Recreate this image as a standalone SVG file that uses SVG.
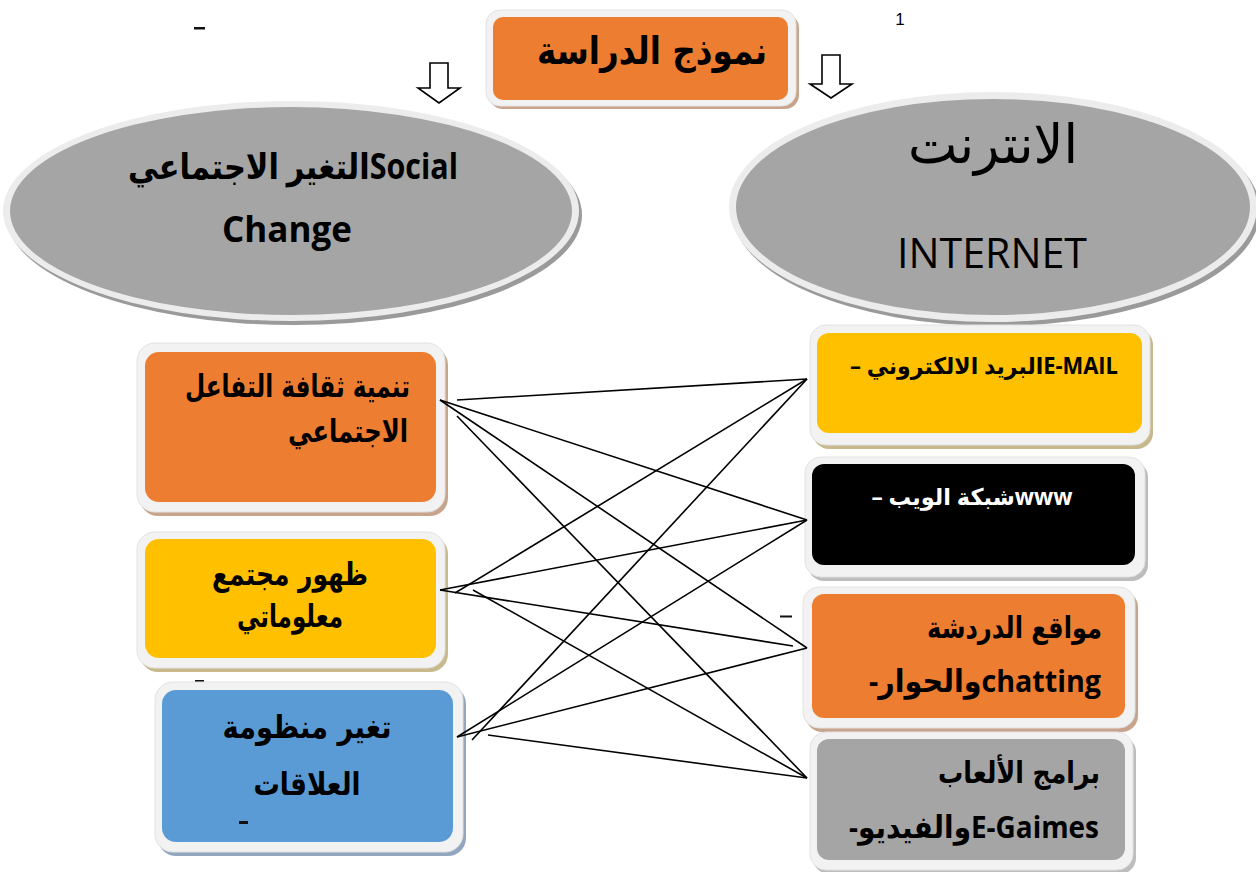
<svg xmlns="http://www.w3.org/2000/svg" width="1256" height="872" viewBox="0 0 1256 872">
<style>
.frame{fill:#f2f2f2;stroke:#e2e2e2;stroke-width:1}
.ar{font-family:"DejaVu Sans","Noto Sans",sans-serif;font-weight:bold;fill:#000}
.lat{font-family:"Open Sans","DejaVu Sans",sans-serif;font-weight:bold;fill:#000}
.mix{font-family:"Open Sans","DejaVu Sans",sans-serif;font-weight:bold;fill:#000}
.rtl{direction:rtl;unicode-bidi:embed}
.conn line{stroke:#000;stroke-width:1.6;fill:none}
.mark{fill:#111}
</style>
<rect width="1256" height="872" fill="#fff"/>

<!-- stray marks -->
<rect class="mark" x="194" y="27" width="11" height="2.5"/>
<text x="900" y="25" font-family="Liberation Sans,sans-serif" font-size="17" text-anchor="middle" fill="#000">1</text>
<rect x="195" y="513" width="9" height="3" fill="#3a2318"/>
<rect class="mark" x="195" y="680" width="9" height="2.5"/>
<rect x="780" y="615.5" width="12" height="2" fill="#111"/>

<!-- title -->
<g id="title">
<rect x="489" y="14" width="310" height="95" rx="14" fill="#c9a48c"/>
<rect class="frame" x="486" y="10" width="310" height="96" rx="14"/>
<rect x="493" y="17" width="295" height="83" rx="10" fill="#ed7d31"/>
<text class="ar rtl" x="652" y="64" font-size="38" text-anchor="middle" textLength="230" lengthAdjust="spacingAndGlyphs">نموذج الدراسة</text>
</g>

<!-- down arrows -->
<g id="arrow-left">
<path d="M430,63 H448 V88 H460 L439,103 L418,88 H430 Z" fill="#fff" stroke="#000" stroke-width="1.6"/>
</g>
<g id="arrow-right">
<path d="M822,55 H840 V84 H852 L831,98 L810,84 H822 Z" fill="#fff" stroke="#000" stroke-width="1.6"/>
</g>

<!-- ellipses -->
<g id="social-change">
<ellipse cx="294" cy="215" rx="288" ry="110" fill="#9a9a9a"/>
<ellipse cx="291" cy="211" rx="288" ry="110" fill="#ececec"/>
<ellipse cx="291" cy="211" rx="281" ry="104" fill="#a5a5a5"/>
<text class="mix rtl" x="293" y="179" font-size="35" text-anchor="middle" textLength="330" lengthAdjust="spacingAndGlyphs">Socialالتغير الاجتماعي</text>
<text class="lat" x="287" y="242" font-size="35" text-anchor="middle" textLength="130" lengthAdjust="spacingAndGlyphs">Change</text>
</g>

<g id="internet">
<ellipse cx="996" cy="211" rx="264" ry="115" fill="#9a9a9a"/>
<ellipse cx="993" cy="207" rx="264" ry="115" fill="#ececec"/>
<ellipse cx="993" cy="207" rx="257" ry="108" fill="#a5a5a5"/>
<text class="rtl" x="993" y="163" font-size="54" text-anchor="middle" font-family="DejaVu Sans,sans-serif" fill="#000" textLength="170" lengthAdjust="spacingAndGlyphs">الانترنت</text>
<text x="992" y="268" font-size="42" text-anchor="middle" font-family="Open Sans,sans-serif" fill="#000" textLength="190" lengthAdjust="spacingAndGlyphs">INTERNET</text>
</g>

<!-- left boxes -->
<g id="box-culture">
<rect x="140" y="347" width="308" height="169" rx="18" fill="#c9a48c"/>
<rect class="frame" x="137" y="343" width="308" height="169" rx="18"/>
<rect x="145" y="352" width="291" height="150" rx="14" fill="#ed7d31"/>
<text class="ar rtl" x="410" y="397" font-size="31" text-anchor="start" textLength="225" lengthAdjust="spacingAndGlyphs">تنمية ثقافة التفاعل</text>
<text class="ar rtl" x="408" y="442" font-size="31" text-anchor="start" textLength="120" lengthAdjust="spacingAndGlyphs">الاجتماعي</text>
</g>

<g id="box-info">
<rect x="140" y="536" width="308" height="136" rx="18" fill="#c8b98c"/>
<rect class="frame" x="137" y="532" width="308" height="136" rx="18"/>
<rect x="145" y="539" width="291" height="119" rx="14" fill="#ffc000"/>
<text class="ar rtl" x="290" y="585" font-size="31" text-anchor="middle" textLength="156" lengthAdjust="spacingAndGlyphs">ظهور مجتمع</text>
<text class="ar rtl" x="290" y="627" font-size="31" text-anchor="middle" textLength="106" lengthAdjust="spacingAndGlyphs">معلوماتي</text>
</g>

<g id="box-relations">
<rect x="158" y="686" width="308" height="170" rx="18" fill="#93a6c0"/>
<rect class="frame" x="155" y="682" width="308" height="170" rx="18"/>
<rect x="162" y="690" width="291" height="152" rx="14" fill="#5b9bd5"/>
<text class="ar rtl" x="307" y="738" font-size="32" text-anchor="middle" textLength="169" lengthAdjust="spacingAndGlyphs">تغير منظومة</text>
<text class="ar rtl" x="307" y="795" font-size="32" text-anchor="middle" textLength="107" lengthAdjust="spacingAndGlyphs">العلاقات</text>
<rect x="239" y="821" width="9" height="3" fill="#111"/>
</g>

<!-- right boxes -->
<g id="box-email">
<rect x="813" y="329" width="340" height="120" rx="16" fill="#c8b98c"/>
<rect class="frame" x="810" y="325" width="340" height="120" rx="16"/>
<rect x="817" y="333" width="325" height="100" rx="12" fill="#ffc000"/>
<text class="mix rtl" x="984" y="374" font-size="23" text-anchor="middle" textLength="268" lengthAdjust="spacingAndGlyphs">E-MAILالبريد الالكتروني –</text>
</g>

<g id="box-www">
<rect x="808" y="461" width="340" height="120" rx="16" fill="#bdbdbd"/>
<rect class="frame" x="805" y="457" width="340" height="120" rx="16"/>
<rect x="812" y="464" width="323" height="101" rx="12" fill="#000"/>
<text class="mix rtl" x="972" y="505" font-size="23" text-anchor="middle" textLength="201" lengthAdjust="spacingAndGlyphs" style="fill:#fff">wwwشبكة الويب –</text>
</g>

<g id="box-chat">
<rect x="806" y="591" width="332" height="141" rx="16" fill="#c9a48c"/>
<rect class="frame" x="803" y="587" width="332" height="141" rx="16"/>
<rect x="812" y="594" width="313" height="124" rx="12" fill="#ed7d31"/>
<text class="ar rtl" x="1102" y="638" font-size="30" text-anchor="start" textLength="175" lengthAdjust="spacingAndGlyphs">مواقع الدردشة</text>
<text class="mix rtl" x="1101" y="692" font-size="31" text-anchor="start" textLength="232" lengthAdjust="spacingAndGlyphs">chattingوالحوار-</text>
</g>

<g id="box-games">
<rect x="813" y="736" width="323" height="138" rx="16" fill="#bdbdbd"/>
<rect class="frame" x="810" y="732" width="323" height="138" rx="16"/>
<rect x="817" y="739" width="308" height="121" rx="12" fill="#a5a5a5"/>
<text class="ar rtl" x="1100" y="783" font-size="30" text-anchor="start" textLength="162" lengthAdjust="spacingAndGlyphs">برامج الألعاب</text>
<text class="mix rtl" x="1099" y="838" font-size="31" text-anchor="start" textLength="250" lengthAdjust="spacingAndGlyphs">E-Gaimesوالفيديو-</text>
</g>

<!-- connectors -->
<g id="connectors" class="conn">
<line x1="457" y1="400" x2="807" y2="379"/>
<line x1="440" y1="400" x2="807" y2="520"/>
<line x1="440" y1="400" x2="807" y2="648"/>
<line x1="457" y1="416" x2="807" y2="778"/>
<line x1="807" y1="379" x2="455" y2="593"/>
<line x1="807" y1="379" x2="472" y2="740"/>
<line x1="807" y1="520" x2="440" y2="590"/>
<line x1="807" y1="520" x2="457" y2="737"/>
<line x1="440" y1="590" x2="793" y2="646"/>
<line x1="473" y1="590" x2="807" y2="778"/>
<line x1="457" y1="737" x2="807" y2="648"/>
<line x1="488" y1="735" x2="807" y2="778"/>
</g>
</svg>
